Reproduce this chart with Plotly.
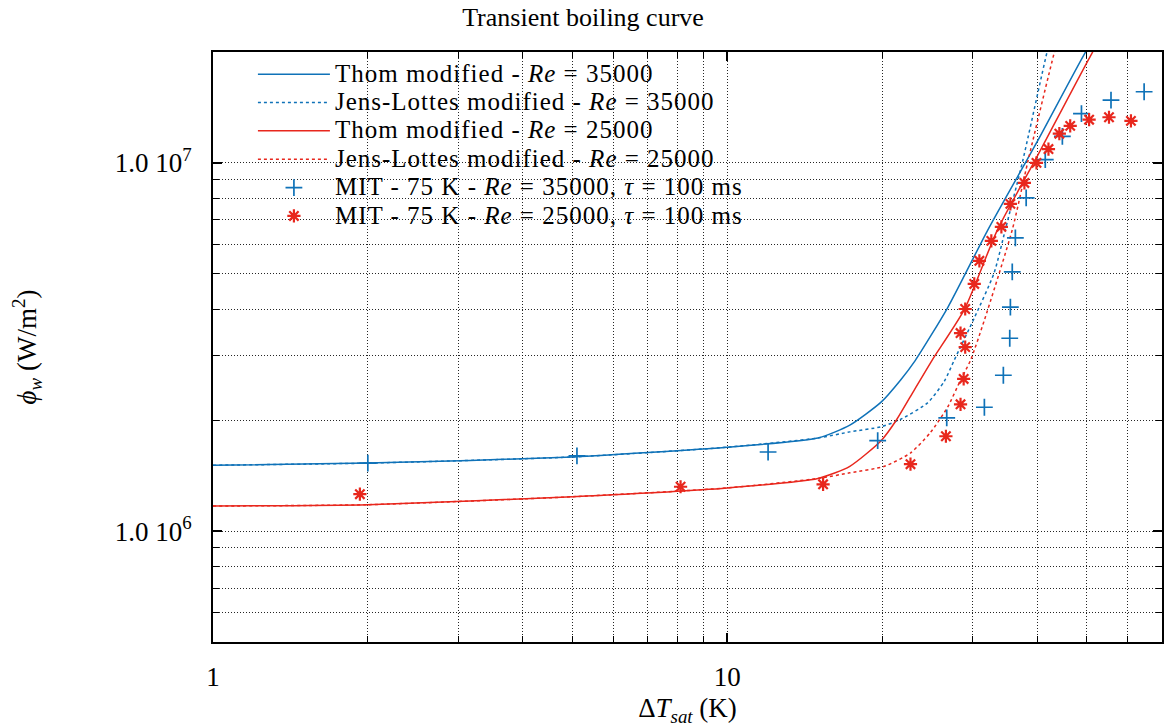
import plotly.graph_objects as go

# ---------------- data ----------------
thom35_x = [1, 2, 5, 10, 15.0, 17.3, 19.9, 21.7, 23.2, 26.8, 32.1, 40.0, 49.6, 52.0]
thom35_y = [1.51e6, 1.53e6, 1.59e6, 1.69e6, 1.79e6, 1.94e6, 2.24e6, 2.57e6, 2.91e6,
            4.04e6, 6.58e6, 1.14e7, 1.99e7, 2.20e7]

jl35_x = [1, 2, 5, 10, 15.0, 17.3, 19.9, 21.7, 24.5, 26.4, 27.6, 30.2, 33.0, 34.7, 37.5, 41.8, 43.0]
jl35_y = [1.51e6, 1.53e6, 1.59e6, 1.69e6, 1.79e6, 1.86e6, 1.92e6, 2.01e6, 2.23e6, 2.55e6,
          2.91e6, 3.79e6, 5.02e6, 6.58e6, 1.01e7, 1.99e7, 2.30e7]

thom25_x = [1, 2, 5, 10, 15.0, 17.3, 19.9, 21.3, 23.1, 25.0, 28.9, 33.5, 40.0, 51.2, 53.5]
thom25_y = [1.17e6, 1.18e6, 1.24e6, 1.31e6, 1.39e6, 1.50e6, 1.76e6, 2.00e6, 2.42e6, 2.91e6,
            4.00e6, 6.58e6, 1.04e7, 1.99e7, 2.20e7]

jl25_x = [1, 2, 5, 10, 15.0, 17.3, 20.2, 22.7, 24.8, 26.8, 28.4, 29.7, 31.6, 35.8, 38.4, 43.2, 44.5]
jl25_y = [1.17e6, 1.18e6, 1.24e6, 1.31e6, 1.39e6, 1.44e6, 1.50e6, 1.63e6, 1.85e6, 2.17e6,
          2.57e6, 2.91e6, 3.74e6, 6.58e6, 1.01e7, 1.99e7, 2.30e7]

mit35_x = [2.0, 5.1, 12.0, 19.6, 26.7, 31.6, 34.4, 35.4, 35.5, 35.8, 36.3, 38.1, 41.5, 44.8, 48.8, 55.7, 64.6]
mit35_y = [1.53e6, 1.60e6, 1.64e6, 1.76e6, 2.03e6, 2.17e6, 2.65e6, 3.34e6, 4.06e6, 5.06e6,
           6.26e6, 8.03e6, 1.02e7, 1.18e7, 1.36e7, 1.48e7, 1.56e7]

mit25_x = [1.93, 8.11, 15.35, 22.7, 26.6, 28.4, 28.8, 29.0, 28.4, 29.0, 30.2, 30.9, 32.6, 34.1,
           35.5, 37.8, 39.9, 42.1, 44.2, 46.4, 50.5, 55.2, 60.9]
mit25_y = [1.26e6, 1.32e6, 1.34e6, 1.52e6, 1.81e6, 2.21e6, 2.59e6, 3.16e6, 3.45e6, 4.01e6,
           4.69e6, 5.42e6, 6.14e6, 6.70e6, 7.74e6, 8.82e6, 1.00e7, 1.09e7, 1.20e7, 1.26e7,
           1.31e7, 1.33e7, 1.30e7]

names = ["Thom modified - <i>Re</i> = 35000",
         "Jens-Lottes modified - <i>Re</i> = 35000",
         "Thom modified - <i>Re</i> = 25000",
         "Jens-Lottes modified - <i>Re</i> = 25000",
         "MIT - 75 K - <i>Re</i> = 35000, <i>τ</i> = 100 ms",
         "MIT - 75 K - <i>Re</i> = 25000, <i>τ</i> = 100 ms"]

x_major = [1, 10]
x_major_text = ["1", "10"]
x_minor = [2, 3, 4, 5, 6, 7, 8, 9, 20, 30, 40, 50, 60]
y_major = [1e6, 1e7]
y_major_text = ["1.0 10<sup>6</sup>", "1.0 10<sup>7</sup>"]
y_minor = [6e5, 7e5, 8e5, 9e5, 2e6, 3e6, 4e6, 5e6, 6e6, 7e6, 8e6, 9e6]

BLUE = "#0f72b8"
RED = "#e8271d"
FONT = "Liberation Serif"
TS = 27      # axis text size
LS = 25      # legend text size


def lab(s):
    return '<span style="font-size:%dpx;letter-spacing:1px">%s</span>' % (LS, s)


fig = go.Figure()
fig.add_trace(go.Scatter(x=thom35_x, y=thom35_y, mode="lines", name=lab(names[0]),
                         line=dict(color=BLUE, width=1.5, shape="spline", smoothing=0.6)))
fig.add_trace(go.Scatter(x=jl35_x, y=jl35_y, mode="lines", name=lab(names[1]),
                         line=dict(color=BLUE, width=1.5, dash="3px,3px", shape="spline", smoothing=0.6)))
fig.add_trace(go.Scatter(x=thom25_x, y=thom25_y, mode="lines", name=lab(names[2]),
                         line=dict(color=RED, width=1.5, shape="spline", smoothing=0.6)))
fig.add_trace(go.Scatter(x=jl25_x, y=jl25_y, mode="lines", name=lab(names[3]),
                         line=dict(color=RED, width=1.5, dash="3px,3px", shape="spline", smoothing=0.6)))
fig.add_trace(go.Scatter(x=mit35_x, y=mit35_y, mode="markers", name=lab(names[4]),
                         marker=dict(symbol="cross-thin", size=12, color=BLUE,
                                     line=dict(color=BLUE, width=1.7))))
fig.add_trace(go.Scatter(x=mit25_x, y=mit25_y, mode="markers", name=lab(names[5]),
                         marker=dict(symbol="asterisk", size=11, color=RED,
                                     line=dict(color=RED, width=2.2))))

grid = dict(showgrid=True, gridcolor="rgba(0,0,0,0.85)", gridwidth=1, griddash="1px,2px")

fig.update_xaxes(type="log", range=[0, 1.845], tickvals=x_major, ticktext=x_major_text,
                 ticks="inside", ticklen=9, tickwidth=1.5, tickcolor="black",
                 showline=True, linecolor="black", linewidth=2, mirror="allticks",
                 zeroline=False, ticklabelstandoff=10,
                 minor=dict(tickvals=x_minor, ticks="inside", ticklen=6, tickcolor="black",
                            tickwidth=1, **grid),
                 **grid,
                 title=dict(text="Δ<i>T</i><sub><i>sat</i></sub> (K)", standoff=14,
                            font=dict(size=TS, family=FONT, color="black")),
                 tickfont=dict(size=TS, family=FONT, color="black"))
fig.update_yaxes(type="log", range=[5.69897, 7.30103], tickvals=y_major, ticktext=y_major_text,
                 ticks="inside", ticklen=9, tickwidth=1.5, tickcolor="black",
                 showline=True, linecolor="black", linewidth=2, mirror="allticks",
                 zeroline=False, ticklabelstandoff=14,
                 minor=dict(tickvals=y_minor, ticks="inside", ticklen=6, tickcolor="black",
                            tickwidth=1, **grid),
                 **grid,
                 title=dict(text="<i>ϕ</i><sub><i>w</i></sub> (W/m<sup>2</sup>)", standoff=70,
                            font=dict(size=TS, family=FONT, color="black")),
                 tickfont=dict(size=TS, family=FONT, color="black"))

# white key box covering the grid behind the legend
fig.add_shape(type="rect", xref="paper", yref="paper", x0=0, x1=(910 - 213) / 951,
              y0=(643 - 228) / 591, y1=1, fillcolor="white", line=dict(width=0), layer="between")

fig.update_layout(
    width=1166, height=727,
    margin=dict(l=213, r=2, t=52, b=84),
    paper_bgcolor="white", plot_bgcolor="white",
    font=dict(family=FONT, size=TS, color="black"),
    title=dict(text="Transient boiling curve", x=0.5, xanchor="center", y=1 - 17 / 727,
               yanchor="middle", xref="container", yref="container",
               font=dict(size=26, family=FONT, color="black")),
    showlegend=True,
    legend=dict(x=(253 - 213) / 951, xanchor="left", y=1 - (55 - 52) / 591, yanchor="top",
                bgcolor="rgba(0,0,0,0)", borderwidth=0, itemwidth=72,
                font=dict(size=19.5, family=FONT, color="black"),
                tracegroupgap=0),
)

fig.write_html("out.html", config={"displayModeBar": False},
               post_script="document.body.style.margin='0px';document.body.style.overflow='hidden';")
